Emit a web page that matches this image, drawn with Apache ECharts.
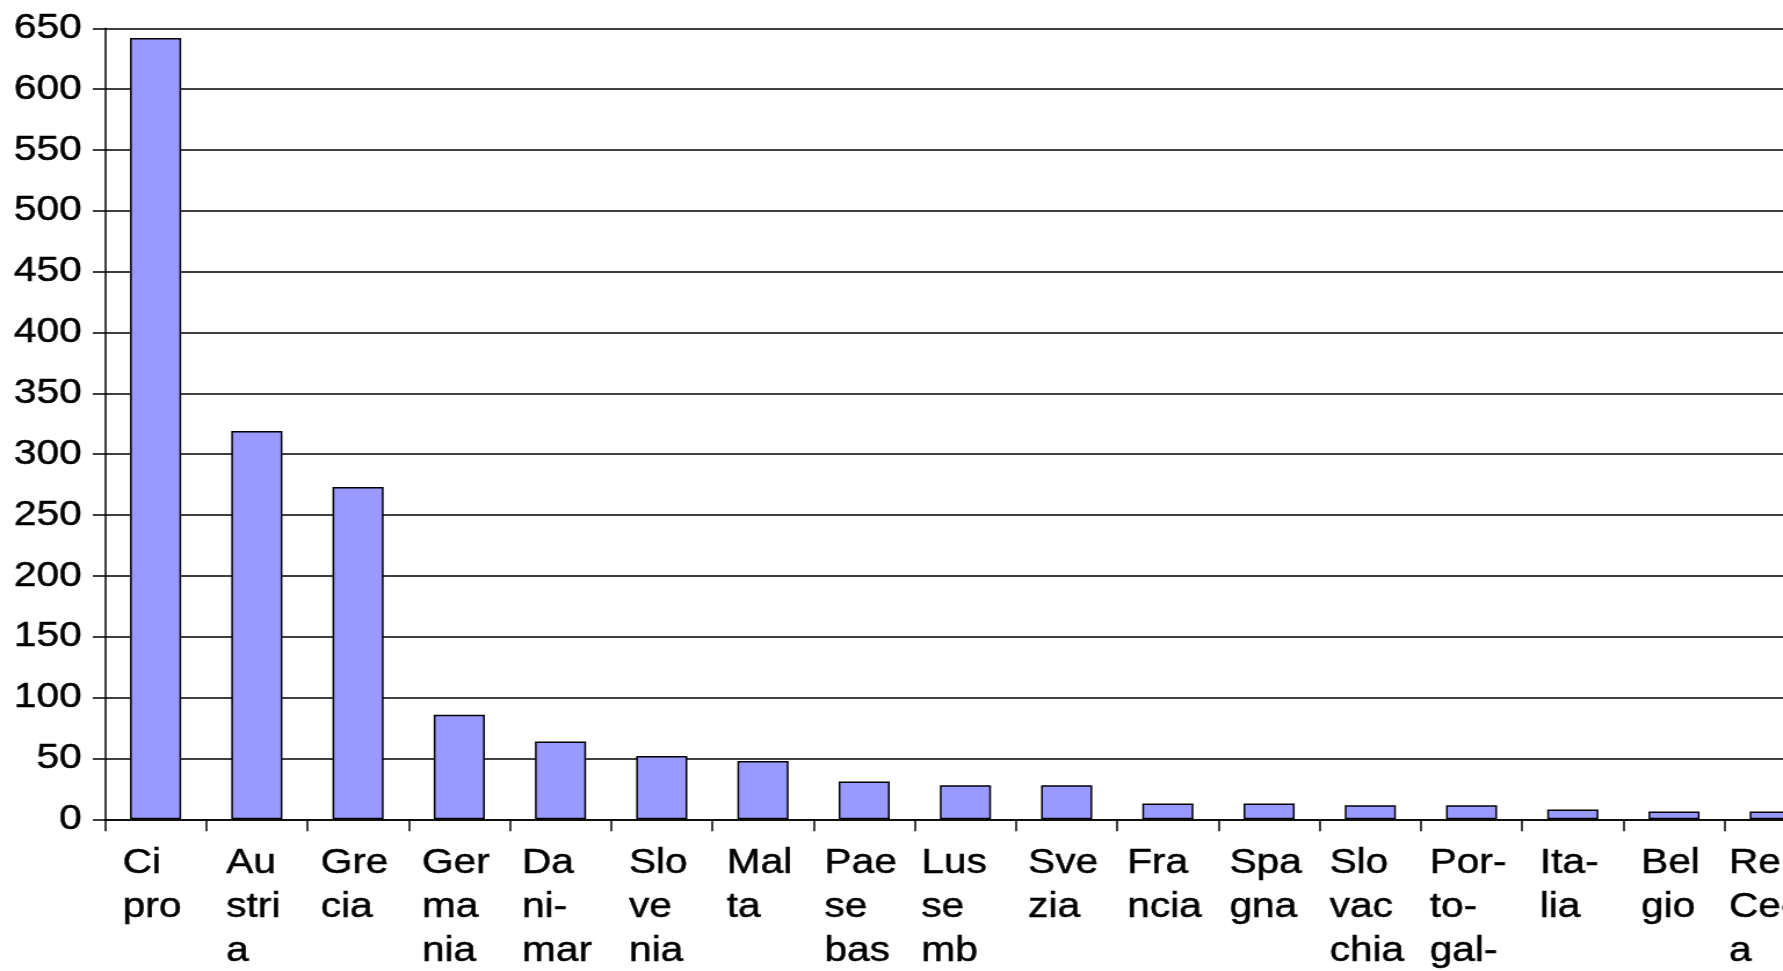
<!DOCTYPE html>
<html>
<head>
<meta charset="utf-8">
<script src="https://cdn.jsdelivr.net/npm/echarts@6/dist/echarts.min.js"></script>
<style>
  html, body { margin: 0; padding: 0; background: #fff; overflow: hidden; }
  #wrap { width: 1783px; height: 971px; overflow: hidden; }
  /* the reference text is a bit wide, so the chart is stretched horizontally */
  #chart { width: 1537px; height: 971px; transform: scaleX(1.16); transform-origin: 0 0; }
</style>
</head>
<body>
<div id="wrap"><div id="chart"></div></div>
<script>
// categories (already hyphenated/wrapped as in the picture)
const categories = [
  'Ci\npro', 'Au\nstri\na', 'Gre\ncia', 'Ger\nma\nnia', 'Da\nni-\nmar\nca',
  'Slo\nve\nnia', 'Mal\nta', 'Pae\nse\nbas\nsi', 'Lus\nse\nmb\nurgo', 'Sve\nzia',
  'Fra\nncia', 'Spa\ngna', 'Slo\nvac\nchia', 'Por-\nto-\ngal-\nlo', 'Ita-\nlia',
  'Bel\ngio', 'Rep.\nCec\na'
]
const values = [642, 319, 273, 86, 64, 52, 48, 31, 28, 28, 13, 13, 11.5, 11.5, 8, 6.5, 6.5]

const myChart = echarts.init(document.getElementById('chart'))
const fontFamily = '"Liberation Sans", Arial, sans-serif'
const option = {
  animation: false,
  grid: {
    left: 90.5,
    right: -37,
    top: 28.3,
    bottom: 151.7,
    containLabel: false,
    outerBoundsMode: 'none'
  },
  xAxis: {
    type: 'category',
    data: categories,
    boundaryGap: true,
    axisLine: { lineStyle: { color: '#000', width: 1.5 } },
    axisTick: { show: true, length: 12, lineStyle: { color: '#000', width: 1.5 } },
    axisLabel: {
      interval: 0,
      margin: 22,
      hideOverlap: false,
      padding: [0, 6, 0, 0],
      formatter: function(v) {
        return v.split('\n').map(l => '{a|' + l + '}').join('\n')
      },
      rich: {
        a: {
          align: 'left',
          color: '#000',
          fontSize: 35,
          lineHeight: 44,
          fontFamily: fontFamily,
          textBorderColor: '#000',
          textBorderWidth: 0.5
        }
      }
    }
  },
  yAxis: {
    type: 'value',
    min: 0,
    max: 650,
    interval: 50,
    axisLine: { show: true, lineStyle: { color: '#000', width: 1.5 } },
    axisTick: { show: true, length: 10.5, lineStyle: { color: '#000', width: 1.5 } },
    splitLine: { show: true, lineStyle: { color: '#000', width: 1.5 } },
    axisLabel: {
      margin: 20,
      color: '#000',
      fontSize: 35,
      fontFamily: fontFamily,
      textBorderColor: '#000',
      textBorderWidth: 0.5
    }
  },
  series: [
    {
      type: 'bar',
      data: values,
      barWidth: '50.5%',
      itemStyle: {
        color: '#9999FF',
        borderColor: '#000',
        borderWidth: 1.5
      }
    }
  ]
}
myChart.setOption(option)
</script>
</body>
</html>
